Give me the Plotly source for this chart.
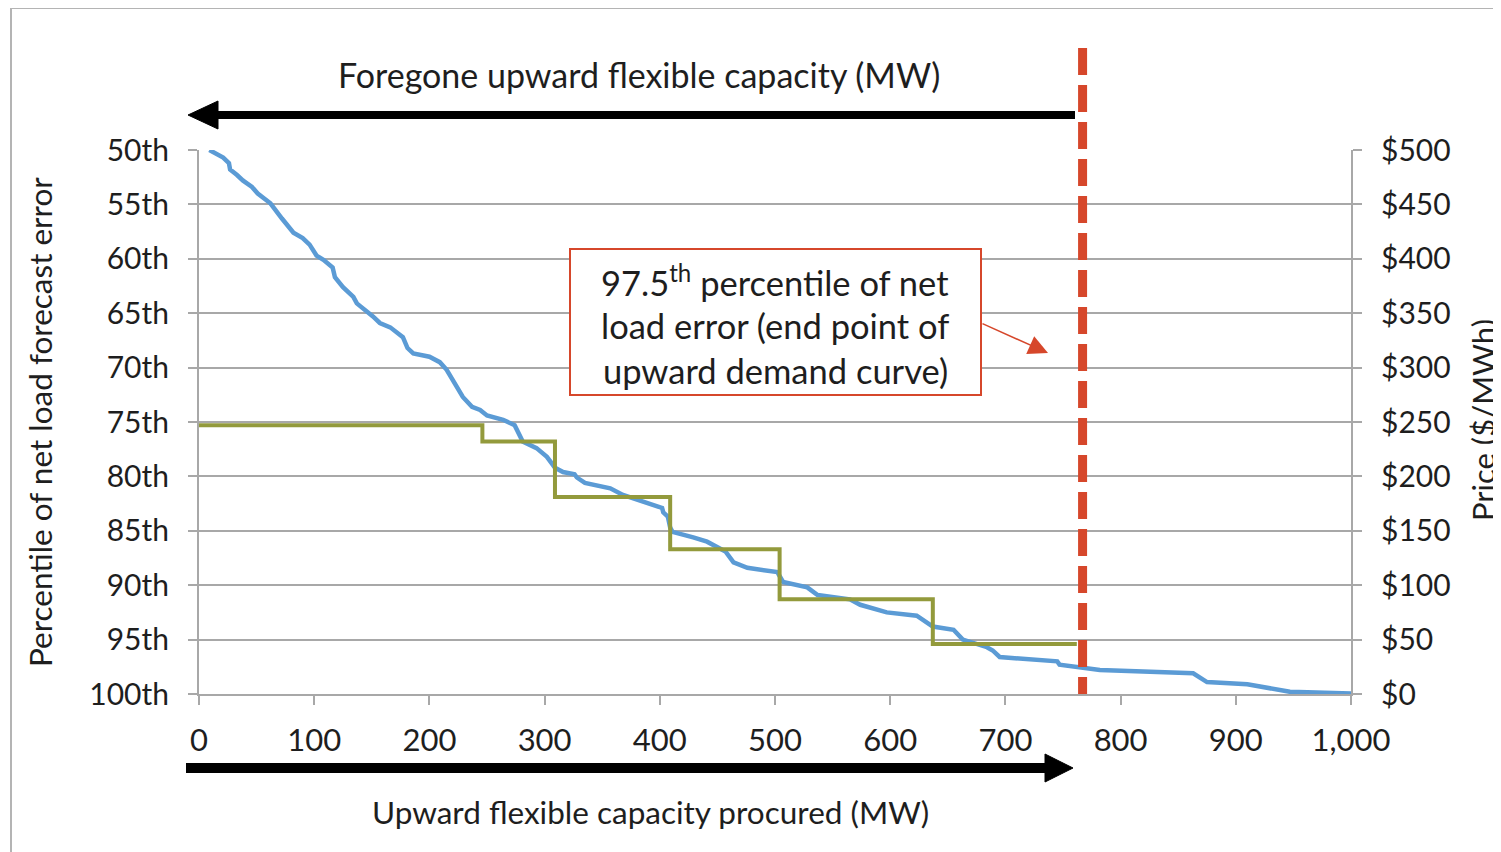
import plotly.graph_objects as go

# ---------------- data ----------------
# Blue curve: upward flexible capacity (MW) vs percentile of net load forecast error
curve_mw = [9, 21, 26, 27, 33, 38, 46, 51, 62, 66, 72, 82, 90, 96, 102, 108, 116, 118,
            125, 134, 137, 151, 157, 166, 177, 181, 186, 200, 209, 215, 224, 229, 237, 244,
            250, 264, 274, 277, 281, 293, 302, 309, 316, 326, 328, 335, 357, 368, 389, 402,
            403, 407, 409, 411, 429, 441, 457, 464, 476, 502, 507, 528, 537, 565, 574, 597,
            623, 637, 655, 663, 684, 689, 695, 745, 747, 782, 863, 875, 910, 947, 1000]
curve_pct = [50.0, 50.7, 51.2, 51.8, 52.3, 52.8, 53.4, 54.0, 54.9, 55.5, 56.3, 57.6, 58.1,
             58.7, 59.7, 60.1, 60.8, 61.7, 62.6, 63.5, 64.1, 65.3, 65.9, 66.3, 67.2, 68.2,
             68.7, 69.0, 69.5, 70.2, 71.8, 72.7, 73.6, 73.9, 74.4, 74.8, 75.3, 76.0, 76.8,
             77.4, 78.2, 79.2, 79.6, 79.8, 80.1, 80.6, 81.1, 81.7, 82.4, 82.9, 83.3, 83.7,
             84.7, 85.1, 85.6, 86.0, 86.9, 87.9, 88.4, 88.8, 89.7, 90.2, 90.9, 91.3, 91.8,
             92.5, 92.8, 93.8, 94.1, 95.0, 95.7, 96.0, 96.6, 97.0, 97.3, 97.8, 98.1, 98.9,
             99.1, 99.8, 99.95]

# Olive step curve: demand curve price ($/MWh)
step_mw = [0, 246, 309, 409, 504, 637, 762]
step_price = [247, 232, 181, 133, 87, 46, 46]

# 97.5th percentile end point (MW)
p975_mw = 767

x_ticks = [0, 100, 200, 300, 400, 500, 600, 700, 800, 900, 1000]
x_ticktext = ["0", "100", "200", "300", "400", "500", "600", "700", "800", "900", "1,000"]
pct_ticks = [50, 55, 60, 65, 70, 75, 80, 85, 90, 95, 100]
pct_ticktext = ["50th", "55th", "60th", "65th", "70th", "75th", "80th", "85th", "90th", "95th", "100th"]
price_ticks = [0, 50, 100, 150, 200, 250, 300, 350, 400, 450, 500]
price_ticktext = ["$0", "$50", "$100", "$150", "$200", "$250", "$300", "$350", "$400", "$450", "$500"]

# ---------------- style ----------------
FONT = "Lato"
TXT = "#1e1e1e"
GRID = "#a8a8a8"
BLUE = "#5b9bd5"
OLIVE = "#939a3c"
RED = "#d6472b"

OFF = 8                      # page body margin offset
W, H = 1501, 852 - OFF
L, T = 199 - OFF, 150 - OFF  # plot area left/top (figure coords)
R = W - (1351 - OFF)
B = H - (694 - OFF)
PW, PH = W - L - R, H - T - B


def px(x):
    """screen x -> paper"""
    return (x - OFF - L) / PW


def py(y):
    """screen y -> paper"""
    return (H - B - (y - OFF)) / PH


fig = go.Figure()
fig.add_trace(go.Scatter(x=curve_mw, y=curve_pct, mode="lines",
                         line=dict(color=BLUE, width=4.5), yaxis="y", showlegend=False))
fig.add_trace(go.Scatter(x=step_mw, y=step_price, mode="lines", line_shape="hv",
                         line=dict(color=OLIVE, width=4), yaxis="y2", showlegend=False))

axis_common = dict(showline=True, linecolor=GRID, linewidth=2, ticks="outside",
                   ticklen=9, tickwidth=2, tickcolor=GRID, zeroline=False)

fig.update_layout(
    width=W, height=H,
    margin=dict(l=L, r=R, t=T, b=B, pad=0),
    paper_bgcolor="white", plot_bgcolor="white",
    showlegend=False,
    xaxis=dict(range=[0, 1000], tickvals=x_ticks, ticktext=x_ticktext, showgrid=False,
               ticklabelstandoff=9, tickfont=dict(family=FONT, size=31, color=TXT),
               **axis_common),
    yaxis=dict(range=[100, 50], tickvals=pct_ticks, ticktext=pct_ticktext, showgrid=True,
               gridcolor=GRID, gridwidth=2, ticklabelstandoff=13,
               tickfont=dict(family=FONT, size=30, color=TXT), **axis_common),
    yaxis2=dict(range=[0, 500], tickvals=price_ticks, ticktext=price_ticktext, overlaying="y",
                side="right", showgrid=False, ticklabelstandoff=13,
                tickfont=dict(family=FONT, size=30, color=TXT), **axis_common),
)

shapes = []
# outer frame
shapes.append(dict(type="rect", xref="paper", yref="paper", x0=px(11), x1=px(1560),
                   y0=py(900), y1=py(8), line=dict(color="#b4b4b4", width=2), layer="below"))
# red dashed vertical line
shapes.append(dict(type="line", xref="x", yref="paper", x0=p975_mw, x1=p975_mw,
                   y0=py(48), y1=0, line=dict(color=RED, width=9, dash="27px,10px"),
                   layer="above"))
# text box
shapes.append(dict(type="rect", xref="paper", yref="paper", x0=px(570), x1=px(981),
                   y0=py(395), y1=py(249), fillcolor="white",
                   line=dict(color=RED, width=2), layer="above"))
# top arrow (pointing left)
shapes.append(dict(type="line", xref="paper", yref="paper", x0=px(1075), x1=px(212),
                   y0=py(115), y1=py(115), line=dict(color="black", width=8)))
shapes.append(dict(type="path", xref="paper", yref="paper",
                   path=f"M {px(188)} {py(115)} L {px(218)} {py(101)} L {px(218)} {py(129)} Z",
                   fillcolor="black", line=dict(color="black", width=1)))
# bottom arrow (pointing right)
shapes.append(dict(type="line", xref="paper", yref="paper", x0=px(186), x1=px(1050),
                   y0=py(768), y1=py(768), line=dict(color="black", width=10)))
shapes.append(dict(type="path", xref="paper", yref="paper",
                   path=f"M {px(1073)} {py(768)} L {px(1045)} {py(754)} L {px(1045)} {py(782)} Z",
                   fillcolor="black", line=dict(color="black", width=1)))
fig.update_layout(shapes=shapes)

ann = []


def text(x, y, s, size=30, angle=0):
    ann.append(dict(xref="paper", yref="paper", x=px(x), y=py(y), text=s, showarrow=False,
                    xanchor="center", yanchor="middle", textangle=angle,
                    font=dict(family=FONT, size=size, color=TXT)))


text(639, 75, "Foregone upward flexible capacity (MW)", size=34)
text(650, 812, "Upward flexible capacity procured (MW)", size=31.5)
text(40, 422, "Percentile of net load forecast error", size=31.5, angle=-90)
text(1483, 420, "Price ($/MWh)", size=31, angle=-90)
text(775, 280, "97.5<sup>th</sup> percentile of net", size=34.5)
text(775, 325, "load error (end point of", size=34.5)
text(775, 370, "upward demand curve)", size=34.5)

# pointer arrow from the box to the dashed line
ann.append(dict(xref="paper", yref="paper", x=px(1048), y=py(353), ax=-67, ay=-30,
                text="", showarrow=True, arrowhead=2, arrowsize=2.6, arrowwidth=1.5,
                arrowcolor=RED))
fig.update_layout(annotations=ann)

fig.write_html("out.html")
